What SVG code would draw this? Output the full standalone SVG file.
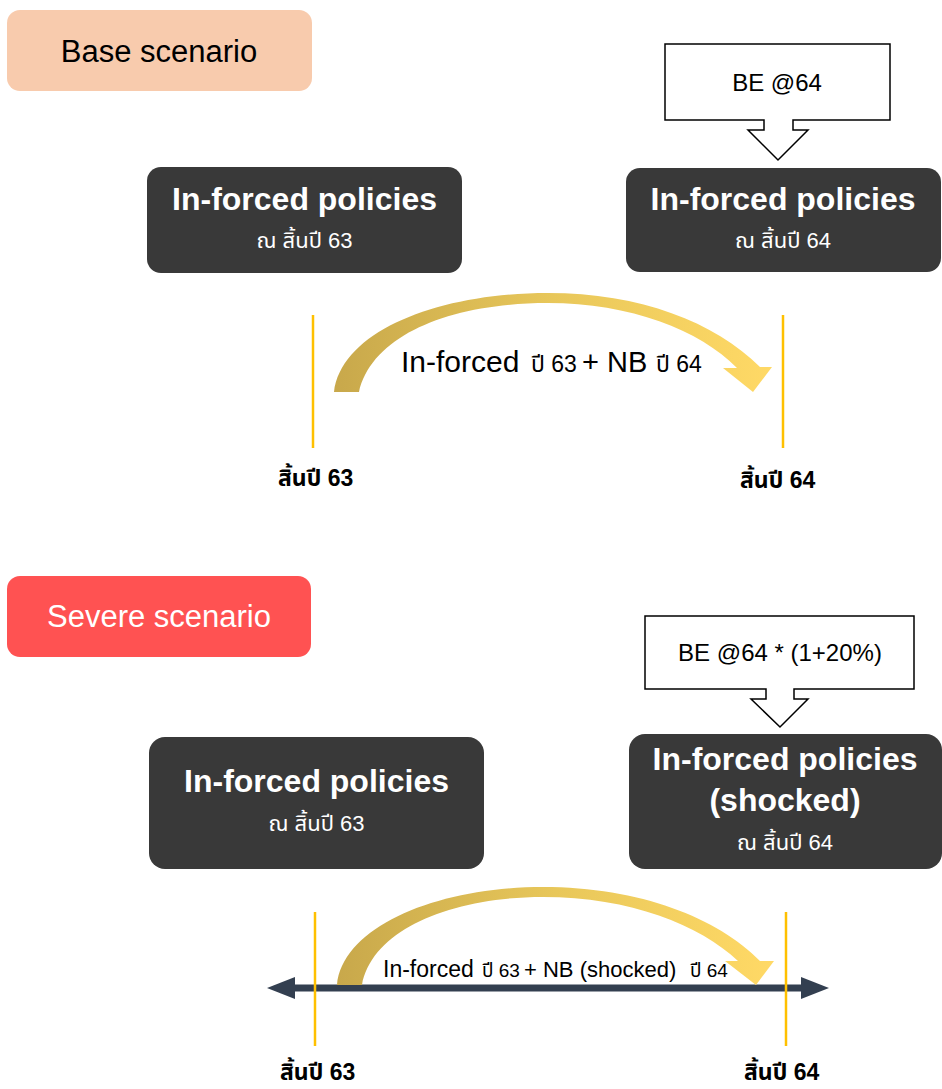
<svg xmlns="http://www.w3.org/2000/svg" width="942" height="1089" viewBox="0 0 942 1089">
<defs>
<linearGradient id="gold" x1="0" y1="0" x2="1" y2="0">
<stop offset="0" stop-color="#C8A84B"/>
<stop offset="0.5" stop-color="#E8C75A"/>
<stop offset="1" stop-color="#FFD966"/>
</linearGradient>
<style>
.sans{font-family:"Liberation Sans","Noto Sans","Noto Sans Thai",Arial,sans-serif}
.dark{fill:#393939}
.title{font-family:"Liberation Sans","Noto Sans","Noto Sans Thai",Arial,sans-serif;font-weight:bold;font-size:32px;fill:#FFFFFF;text-anchor:middle}
.sub{font-family:"Liberation Sans","Noto Sans","Noto Sans Thai",Arial,sans-serif;font-size:22px;fill:#FFFFFF;text-anchor:middle}
.callout{fill:#FFFFFF;stroke:#000000;stroke-width:1.5}
.calltext{font-family:"Liberation Sans","Noto Sans",Arial,sans-serif;font-size:24px;fill:#000000;text-anchor:middle}
.tick{stroke:#FFC000;stroke-width:2.5}
.year{font-family:"Liberation Sans","Noto Sans","Noto Sans Thai",Arial,sans-serif;font-weight:bold;font-size:23px;fill:#000000}
.lbl{font-family:"Liberation Sans","Noto Sans","Noto Sans Thai",Arial,sans-serif;fill:#000000}
</style>
</defs>

<!-- Base scenario -->
<g id="base-scenario">
<rect x="7" y="10" width="305" height="81" rx="13" fill="#F8CBAD"/>
<text x="159" y="62" class="sans" font-size="31" fill="#000000" text-anchor="middle">Base scenario</text>
</g>

<g id="base-be">
<path class="callout" d="M665,44 H890 V120 H793 V130 H808 L778,160 L748,130 H764 V120 H665 Z"/>
<text x="777" y="91" class="calltext">BE @64</text>
</g>

<g id="base-inforced-63">
<rect class="dark" x="147" y="167" width="315" height="106" rx="14"/>
<text x="304.5" y="210" class="title">In-forced policies</text>
<text x="304.5" y="248" class="sub">ณ สิ้นปี 63</text>
</g>

<g id="base-inforced-64">
<rect class="dark" x="626" y="168" width="315" height="104" rx="14"/>
<text x="783" y="210" class="title">In-forced policies</text>
<text x="783" y="248" class="sub">ณ สิ้นปี 64</text>
</g>

<g id="base-end63">
<text x="278" y="486" class="year">สิ้นปี 63</text>
</g>
<g id="base-end64">
<text x="740" y="488" class="year">สิ้นปี 64</text>
</g>

<!-- Severe scenario -->
<g id="severe-scenario">
<rect x="7" y="576" width="304" height="81" rx="13" fill="#FF5252"/>
<text x="159" y="627" class="sans" font-size="31" fill="#FFFFFF" text-anchor="middle">Severe scenario</text>
</g>

<g id="severe-be">
<path class="callout" d="M645,616 H914 V689 H794 V699 H808 L780,727 L751,699 H766 V689 H645 Z"/>
<text x="780" y="661" class="calltext" font-size="25">BE @64 * (1+20%)</text>
</g>

<g id="severe-inforced-63">
<rect class="dark" x="149" y="737" width="335" height="132" rx="16"/>
<text x="316.5" y="792" class="title">In-forced policies</text>
<text x="316.5" y="831" class="sub">ณ สิ้นปี 63</text>
</g>

<g id="severe-inforced-64">
<rect class="dark" x="629" y="734" width="313" height="135" rx="16"/>
<text x="785" y="770" class="title">In-forced policies</text>
<text x="785" y="811" class="title">(shocked)</text>
<text x="785" y="850" class="sub">ณ สิ้นปี 64</text>
</g>

<g id="severe-end63">
<text x="280" y="1080" class="year">สิ้นปี 63</text>
</g>
<g id="severe-end64">
<text x="744" y="1080" class="year">สิ้นปี 64</text>
</g>

<!-- Connectors -->
<g id="connectors">
<!-- base timeline -->
<line class="tick" x1="313" y1="315" x2="313" y2="448"/>
<line class="tick" x1="783" y1="315" x2="783" y2="448"/>
<path fill="url(#gold)" d="M334,392 C342,330 440,293 548,293 C640,293 715,322 760,367 L772,367 L753,392 L723,368 L737,368 C700,330 630,303 548,303 C450,303 372,335 359,392 Z"/>
<text class="lbl" y="372"><tspan x="401" font-size="30">In-forced</tspan><tspan x="531" font-size="23">ปี 63</tspan><tspan x="582" font-size="29">+ NB</tspan><tspan x="656" font-size="23">ปี 64</tspan></text>

<!-- severe timeline -->
<line x1="290" y1="988" x2="806" y2="988" stroke="#333F50" stroke-width="7"/>
<polygon points="267,988 295,977 295,999" fill="#333F50"/>
<polygon points="829,988 801,977 801,999" fill="#333F50"/>
<line class="tick" x1="315" y1="912" x2="315" y2="1046"/>
<line class="tick" x1="786" y1="912" x2="786" y2="1046"/>
<path fill="url(#gold)" d="M337,985 C343,925 440,887 543,887 C640,887 718,918 760,961 L774,961 L756,985 L725,961 L738,961 C700,925 630,897 543,897 C450,897 372,930 362,985 Z"/>
<text class="lbl" y="977"><tspan x="383" font-size="23">In-forced</tspan><tspan x="482" font-size="19">ปี 63</tspan><tspan x="524" font-size="22">+ NB (shocked)</tspan><tspan x="690" font-size="19">ปี 64</tspan></text>
</g>
</svg>
